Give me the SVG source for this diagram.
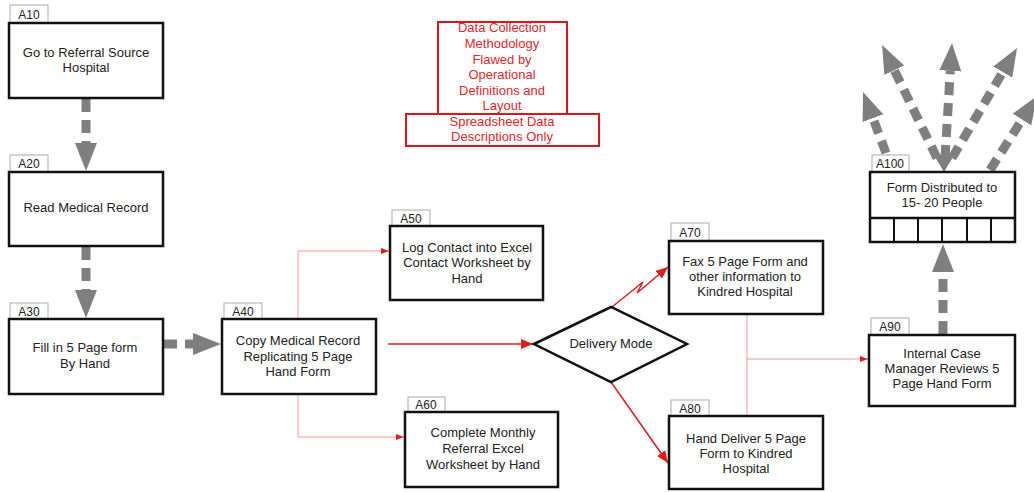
<svg xmlns="http://www.w3.org/2000/svg" width="1034" height="492" viewBox="0 0 1034 492">
<style>
.box{fill:#fff;stroke:#111;stroke-width:2.5}
.tab{fill:#fff;stroke:#aaa;stroke-width:1}
.t{font-family:"Liberation Sans",Arial,sans-serif;font-size:13px;fill:#222;text-anchor:middle}
.tl{font-family:"Liberation Sans",Arial,sans-serif;font-size:12px;fill:#222;text-anchor:middle}
.rt{font-family:"Liberation Sans",Arial,sans-serif;font-size:13px;fill:#e0282c;text-anchor:middle}
.rbox{fill:#fff;stroke:#e0141c;stroke-width:2}
.g{fill:none;stroke:#7f7f7f;stroke-width:9;stroke-dasharray:13 8}
.r{fill:none;stroke:#e41b1b;stroke-width:1.5}
.p{fill:none;stroke:#f39a9a;stroke-width:1}
</style>
<defs>
<marker id="ga" markerUnits="userSpaceOnUse" markerWidth="30" markerHeight="22" refX="0" refY="11" orient="auto"><path d="M0,0 L28,11 L0,22 Z" fill="#7f7f7f"/></marker>
<marker id="ra" markerUnits="userSpaceOnUse" markerWidth="12" markerHeight="10" refX="12" refY="5" orient="auto"><path d="M0,0 L12,5 L0,10 Z" fill="#e41b1b"/></marker>
<marker id="rs" markerUnits="userSpaceOnUse" markerWidth="8" markerHeight="6" refX="8" refY="3" orient="auto"><path d="M0,0 L8,3 L0,6 Z" fill="#e41b1b"/></marker>
</defs>

<g id="connectors">
<line class="g" x1="86" y1="99" x2="86" y2="143" marker-end="url(#ga)"/>
<line class="g" x1="86" y1="247" x2="86" y2="290" marker-end="url(#ga)"/>
<line class="g" x1="164" y1="344" x2="193" y2="344" marker-end="url(#ga)"/>
<line class="g" x1="943" y1="334" x2="943" y2="272" marker-end="url(#ga)"/>
<path d="M944,172 L935,157 A18,18 0 0 1 953,157 Z" fill="#7f7f7f"/>
<line class="g" x1="886" y1="153" x2="872.9" y2="118.2" marker-end="url(#ga)"/>
<line class="g" x1="937" y1="158" x2="894.3" y2="70.2" marker-end="url(#ga)"/>
<line class="g" x1="945" y1="158" x2="950.3" y2="70.9" marker-end="url(#ga)"/>
<line class="g" x1="952" y1="158" x2="1002.8" y2="72.1" marker-end="url(#ga)"/>
<line class="g" x1="990" y1="170" x2="1022" y2="119.6" marker-end="url(#ga)"/>
<polyline class="p" points="298,319 298,251 389,251" marker-end="url(#rs)"/>
<polyline class="p" points="298,395 298,437 404,437" marker-end="url(#rs)"/>
<line class="r" x1="388" y1="344" x2="533" y2="344" marker-end="url(#ra)"/>
<polyline class="r" points="612,307 643,282 637,293 668,267" marker-end="url(#ra)"/>
<line class="r" x1="611" y1="382" x2="668" y2="463" marker-end="url(#ra)"/>
<line class="p" x1="747" y1="315" x2="747" y2="415"/>
<line class="p" x1="747" y1="359" x2="868" y2="359" marker-end="url(#rs)"/>
</g>

<g id="note">
<rect class="rbox" x="438" y="22" width="129" height="92"/>
<rect class="rbox" x="406" y="114" width="193" height="32"/>
<text class="rt" x="502" y="32">Data Collection</text>
<text class="rt" x="502" y="48">Methodology</text>
<text class="rt" x="502" y="64">Flawed by</text>
<text class="rt" x="502" y="79">Operational</text>
<text class="rt" x="502" y="95">Definitions and</text>
<text class="rt" x="502" y="110">Layout</text>
<text class="rt" x="502" y="126">Spreadsheet Data</text>
<text class="rt" x="502" y="141">Descriptions Only</text>
</g>

<g id="A10">
<rect class="tab" x="10" y="5" width="38" height="18"/>
<text class="tl" x="29" y="19">A10</text>
<rect class="box" x="9" y="23" width="154" height="75"/>
<text class="t" x="86" y="57">Go to Referral Source</text>
<text class="t" x="86" y="72">Hospital</text>
</g>

<g id="A20">
<rect class="tab" x="10" y="155" width="38" height="17"/>
<text class="tl" x="29" y="168">A20</text>
<rect class="box" x="9" y="172" width="154" height="74"/>
<text class="t" x="86" y="212">Read Medical Record</text>
</g>

<g id="A30">
<rect class="tab" x="10" y="303" width="38" height="16"/>
<text class="tl" x="29" y="316">A30</text>
<rect class="box" x="9" y="319" width="154" height="75"/>
<text class="t" x="85" y="352">Fill in 5 Page form</text>
<text class="t" x="85" y="368">By Hand</text>
</g>

<g id="A40">
<rect class="tab" x="224" y="303" width="38" height="16"/>
<text class="tl" x="243" y="316">A40</text>
<rect class="box" x="222" y="319" width="154" height="75"/>
<text class="t" x="298" y="345">Copy Medical Record</text>
<text class="t" x="298" y="361">Replicating 5 Page</text>
<text class="t" x="298" y="376">Hand Form</text>
</g>

<g id="A50">
<rect class="tab" x="392" y="210" width="38" height="16"/>
<text class="tl" x="411" y="223">A50</text>
<rect class="box" x="390" y="226" width="153" height="74"/>
<text class="t" x="467" y="252">Log Contact into Excel</text>
<text class="t" x="467" y="267">Contact Worksheet by</text>
<text class="t" x="467" y="283">Hand</text>
</g>

<g id="A60">
<rect class="tab" x="408" y="397" width="37" height="15"/>
<text class="tl" x="426" y="409">A60</text>
<rect class="box" x="405" y="412" width="153" height="75"/>
<text class="t" x="483" y="437">Complete Monthly</text>
<text class="t" x="483" y="453">Referral Excel</text>
<text class="t" x="483" y="469">Worksheet by Hand</text>
</g>

<g id="delivery">
<polygon class="box" points="534,344 611,307 687,344 611,382"/>
<text class="t" x="611" y="348">Delivery Mode</text>
</g>

<g id="A70">
<rect class="tab" x="671" y="223" width="38" height="18"/>
<text class="tl" x="690" y="237">A70</text>
<rect class="box" x="669" y="241" width="154" height="73"/>
<text class="t" x="745" y="266">Fax 5 Page Form and</text>
<text class="t" x="745" y="281">other information to</text>
<text class="t" x="745" y="296">Kindred Hospital</text>
</g>

<g id="A80">
<rect class="tab" x="671" y="400" width="38" height="16"/>
<text class="tl" x="690" y="413">A80</text>
<rect class="box" x="669" y="416" width="154" height="73"/>
<text class="t" x="746" y="443">Hand Deliver 5 Page</text>
<text class="t" x="746" y="458">Form to Kindred</text>
<text class="t" x="746" y="473">Hospital</text>
</g>

<g id="A90">
<rect class="tab" x="871" y="318" width="38" height="17"/>
<text class="tl" x="890" y="331">A90</text>
<rect class="box" x="869" y="335" width="146" height="71"/>
<text class="t" x="942" y="358">Internal Case</text>
<text class="t" x="942" y="373">Manager Reviews 5</text>
<text class="t" x="942" y="388">Page Hand Form</text>
</g>

<g id="A100">
<rect class="tab" x="872" y="155" width="37" height="17"/>
<text class="tl" x="890" y="168">A100</text>
<rect class="box" x="870" y="172" width="145" height="70"/>
<line x1="870" y1="218" x2="1015" y2="218" stroke="#111" stroke-width="2.5"/>
<g stroke="#111" stroke-width="2">
<line x1="894" y1="218" x2="894" y2="242"/>
<line x1="918" y1="218" x2="918" y2="242"/>
<line x1="942" y1="218" x2="942" y2="242"/>
<line x1="967" y1="218" x2="967" y2="242"/>
<line x1="991" y1="218" x2="991" y2="242"/>
</g>
<text class="t" x="942" y="192">Form Distributed to</text>
<text class="t" x="942" y="207">15- 20 People</text>
</g>
</svg>
